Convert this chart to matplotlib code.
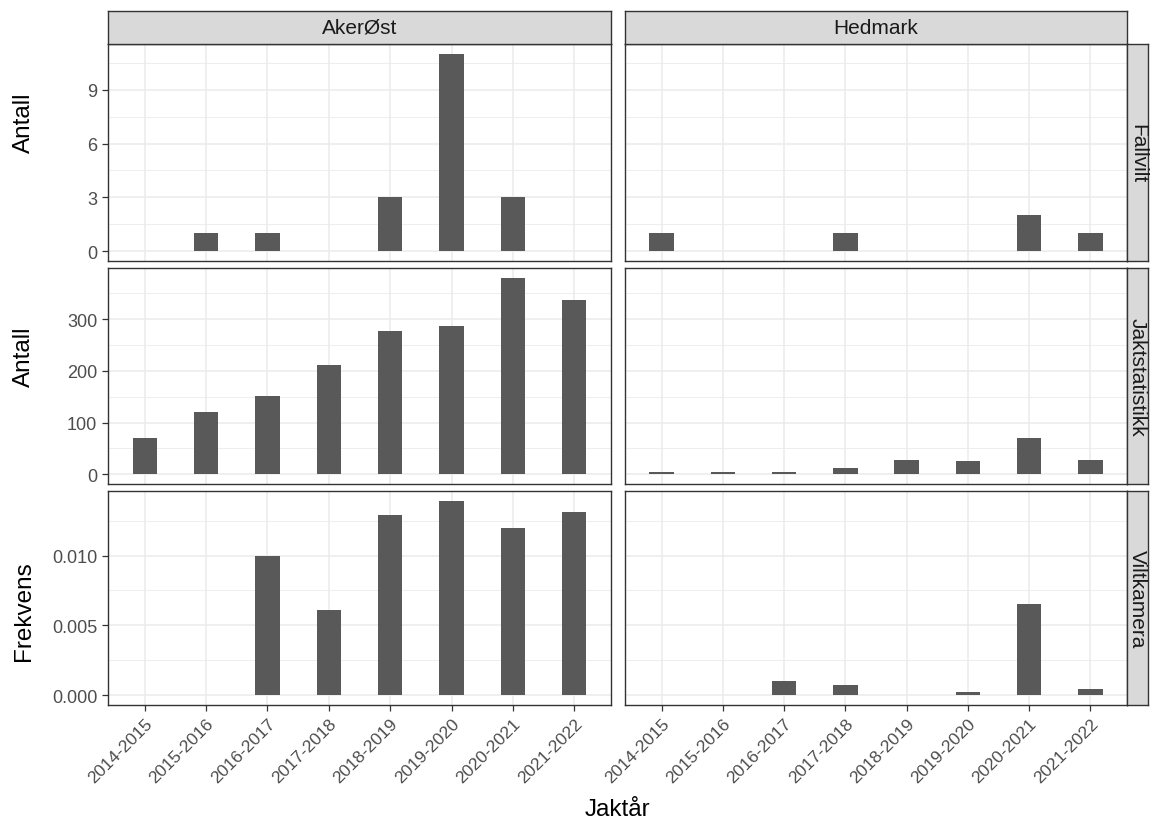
import numpy as np
import matplotlib
matplotlib.use("Agg")
import matplotlib.pyplot as plt
from matplotlib.ticker import FixedLocator

plt.rcParams['font.family'] = ['Liberation Sans', 'DejaVu Sans']

# data
seasons = ["2014-2015", "2015-2016", "2016-2017", "2017-2018",
           "2018-2019", "2019-2020", "2020-2021", "2021-2022"]
regions = ["AkerØst", "Hedmark"]
sources = ["Fallvilt", "Jaktstatistikk", "Viltkamera"]
ylabels = ["Antall", "Antall", "Frekvens"]

fallvilt_aker = [np.nan, 1, 1, np.nan, 3, 11, 3, np.nan]
fallvilt_hedm = [1, np.nan, np.nan, 1, np.nan, np.nan, 2, 1]
jakt_aker = [70, 121, 151, 212, 277, 286, 380, 338]
jakt_hedm = [4, 4, 4, 11, 27, 25, 70, 28]
kamera_aker = [np.nan, np.nan, 0.0100, 0.00613, 0.01292, 0.01392, 0.01194, 0.01311]
kamera_hedm = [np.nan, np.nan, 0.00105, 0.00076, np.nan, 0.00022, 0.0065, 0.00047]

values = [[fallvilt_aker, fallvilt_hedm],
          [jakt_aker, jakt_hedm],
          [kamera_aker, kamera_hedm]]

yticks = [[0, 3, 6, 9], [0, 100, 200, 300], [0, 0.005, 0.010]]
ytick_labels = [["0", "3", "6", "9"], ["0", "100", "200", "300"],
                ["0.000", "0.005", "0.010"]]
yminor = [[1.5, 4.5, 7.5, 10.5], [50, 150, 250, 350], [0.0025, 0.0075, 0.0125]]

W, H = 1155, 828
fig = plt.figure(figsize=(W / 100, H / 100), dpi=100)

def box(x0, y0, x1, y1):
    # pixel box (top-left origin) -> figure fraction
    return [x0 / W, 1 - y1 / H, (x1 - x0) / W, (y1 - y0) / H]

col_x = [(108, 611), (625, 1127)]
row_y = [(45, 262), (269, 485), (492, 706)]
ylabel_y = [123, 357, 611]
border = "#333333"
grid = "#EBEBEB"
bar_col = "#595959"
tick_col = "#4D4D4D"

x = np.arange(len(seasons))

for r in range(3):
    vmax = np.nanmax(np.concatenate([np.array(values[r][0], float),
                                     np.array(values[r][1], float)]))
    ylim = (-0.05 * vmax, 1.05 * vmax)
    for c in range(2):
        ax = fig.add_axes(box(col_x[c][0], row_y[r][0], col_x[c][1], row_y[r][1]))
        ax.bar(x, values[r][c], width=0.4, color=bar_col, zorder=3)
        ax.set_xlim(-0.6, len(seasons) - 0.4)
        ax.set_ylim(*ylim)
        ax.set_yticks(yticks[r])
        ax.yaxis.set_minor_locator(FixedLocator(yminor[r]))
        ax.set_xticks(x)
        ax.grid(True, which='major', color=grid, lw=1.1, zorder=0)
        ax.grid(True, which='minor', axis='y', color=grid, lw=0.6, zorder=0)
        ax.tick_params(which='minor', length=0)
        ax.tick_params(which='major', length=4.3, width=0.9, color=border,
                       labelsize=13, labelcolor=tick_col, pad=3.5)
        for s in ax.spines.values():
            s.set_color(border)
            s.set_linewidth(1.0)
        if c == 0:
            ax.set_yticklabels(ytick_labels[r])
        else:
            ax.tick_params(axis='y', length=0, labelleft=False)
        if r == 2:
            ax.set_xticklabels(seasons, rotation=45, ha='right',
                               rotation_mode='anchor', fontsize=12.6)
        else:
            ax.tick_params(axis='x', length=0, labelbottom=False)
    fig.text(24 / W, 1 - ylabel_y[r] / H, ylabels[r], rotation=90,
             ha='center', va='center', fontsize=17.5)

# top strips
for c in range(2):
    sax = fig.add_axes(box(col_x[c][0], 12, col_x[c][1], 45))
    sax.set_facecolor("#D9D9D9")
    sax.set_xticks([])
    sax.set_yticks([])
    for s in sax.spines.values():
        s.set_color(border)
        s.set_linewidth(1.0)
    sax.text(0.5, 0.5, regions[c], ha='center', va='center',
             fontsize=15, color="#1A1A1A", transform=sax.transAxes)

# right strips
for r in range(3):
    sax = fig.add_axes(box(1127, row_y[r][0], 1148, row_y[r][1]))
    sax.set_facecolor("#D9D9D9")
    sax.set_xticks([])
    sax.set_yticks([])
    for s in sax.spines.values():
        s.set_color(border)
        s.set_linewidth(1.0)
    sax.text(0.5, 0.5, sources[r], ha='center', va='center', rotation=-90,
             fontsize=15, color="#1A1A1A", transform=sax.transAxes)

fig.text((108 + 1127) / 2 / W, 1 - 810 / H, "Jaktår", ha='center', va='center',
         fontsize=17.5)

fig.savefig("out.png", dpi=100)
